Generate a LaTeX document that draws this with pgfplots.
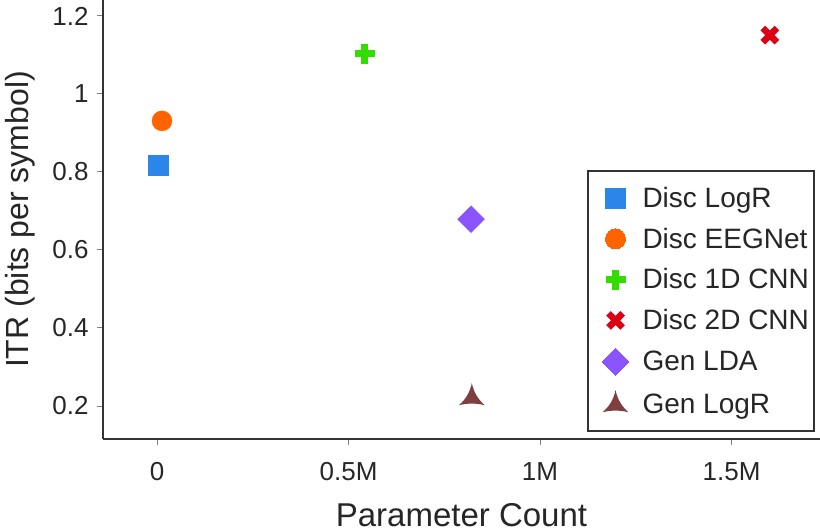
\documentclass[border=0pt]{standalone}
\usepackage{fontspec}
\setmainfont{Liberation Sans}
\usepackage{pgfplots}
\pgfplotsset{compat=1.18}
\definecolor{cblue}{HTML}{2B86E9}
\definecolor{corange}{HTML}{FF6300}
\definecolor{cgreen}{HTML}{33DD00}
\definecolor{cred}{HTML}{DD0011}
\definecolor{cpurple}{HTML}{8A55FF}
\definecolor{cbrown}{HTML}{7F3F3F}
\definecolor{textc}{HTML}{262626}
\definecolor{axisc}{HTML}{333333}
\pgfdeclareplotmark{ctri}{%
 \pgfpathmoveto{\pgfqpoint{0pt}{1.1\pgfplotmarksize}}%
 \pgfpathquadraticcurveto{\pgfqpoint{0.22\pgfplotmarksize}{0.05\pgfplotmarksize}}{\pgfqpoint{\pgfplotmarksize}{-0.6\pgfplotmarksize}}%
 \pgfpathquadraticcurveto{\pgfqpoint{0pt}{-0.35\pgfplotmarksize}}{\pgfqpoint{-\pgfplotmarksize}{-0.6\pgfplotmarksize}}%
 \pgfpathquadraticcurveto{\pgfqpoint{-0.22\pgfplotmarksize}{0.05\pgfplotmarksize}}{\pgfqpoint{0pt}{1.1\pgfplotmarksize}}%
 \pgfpathclose
 \pgfusepathqfill}
\begin{document}
\begin{tikzpicture}
\begin{axis}[
 scale only axis, width=717pt, height=439pt,
 xmin=-0.141, xmax=1.731, ymin=0.1154, ymax=1.241,
 axis x line*=bottom, axis y line*=left,
 axis line style={line width=1.5pt, color=axisc},
 xtick={0,0.5,1,1.5}, xticklabels={0,0.5M,1M,1.5M},
 ytick={0.2,0.4,0.6,0.8,1,1.2}, yticklabels={0.2,0.4,0.6,0.8,1,1.2},
 tick align=outside, major tick length=6pt,
 tick style={color=gray, line width=1pt},
 ticklabel style={font=\fontsize{26}{30}\selectfont, text=textc},
 xticklabel style={yshift=-14pt},
 yticklabel style={xshift=-5pt},
 xlabel={Parameter Count}, ylabel={ITR (bits per symbol)},
 every axis x label/.style={at={([yshift=-76pt]axis description cs:0.5,0)}, anchor=center, font=\fontsize{33}{39}\selectfont, text=textc},
 every axis y label/.style={at={([xshift=-83pt]axis description cs:0,0.5)}, anchor=center, rotate=90, font=\fontsize{32}{38}\selectfont, text=textc},
 legend style={at={(0.993,0.016)}, anchor=south east, draw=axisc, line width=2pt,
   font=\fontsize{28}{33}\selectfont, text=textc, inner xsep=3pt, inner ysep=14pt, row sep=15pt, fill=white},
 legend cell align=left,
 legend image code/.code={\path (0pt,0pt) (48pt,0pt); \draw[#1, line width=0pt] plot coordinates {(24pt,0pt)};},
]
\coordinate (SW) at (rel axis cs:0,0);
\coordinate (NE) at (rel axis cs:1,1);
\addplot[only marks, mark=square*, mark size=10pt, color=cblue] coordinates {(0.003,0.818)};
\addlegendentry{Disc LogR}
\addplot[only marks, mark=*, mark size=10pt, color=corange] coordinates {(0.013,0.931)};
\addlegendentry{Disc EEGNet}
\addplot[only marks, mark=+, mark size=10pt, color=cgreen, mark options={line width=7pt}] coordinates {(0.543,1.103)};
\addlegendentry{Disc 1D CNN}
\addplot[only marks, mark=x, mark size=10pt, color=cred, mark options={line width=6.5pt}] coordinates {(1.60,1.151)};
\addlegendentry{Disc 2D CNN}
\addplot[only marks, mark=square*, mark size=9.5pt, color=cpurple, mark options={rotate=45}] coordinates {(0.82,0.679)};
\addlegendentry{Gen LDA}
\addplot[only marks, mark=ctri, mark size=13pt, color=cbrown] coordinates {(0.822,0.222)};
\addlegendentry{Gen LogR}
\end{axis}
\pgfresetboundingbox
\path ([shift={(-103pt,-93pt)}]SW) rectangle (NE);
\end{tikzpicture}
\end{document}
